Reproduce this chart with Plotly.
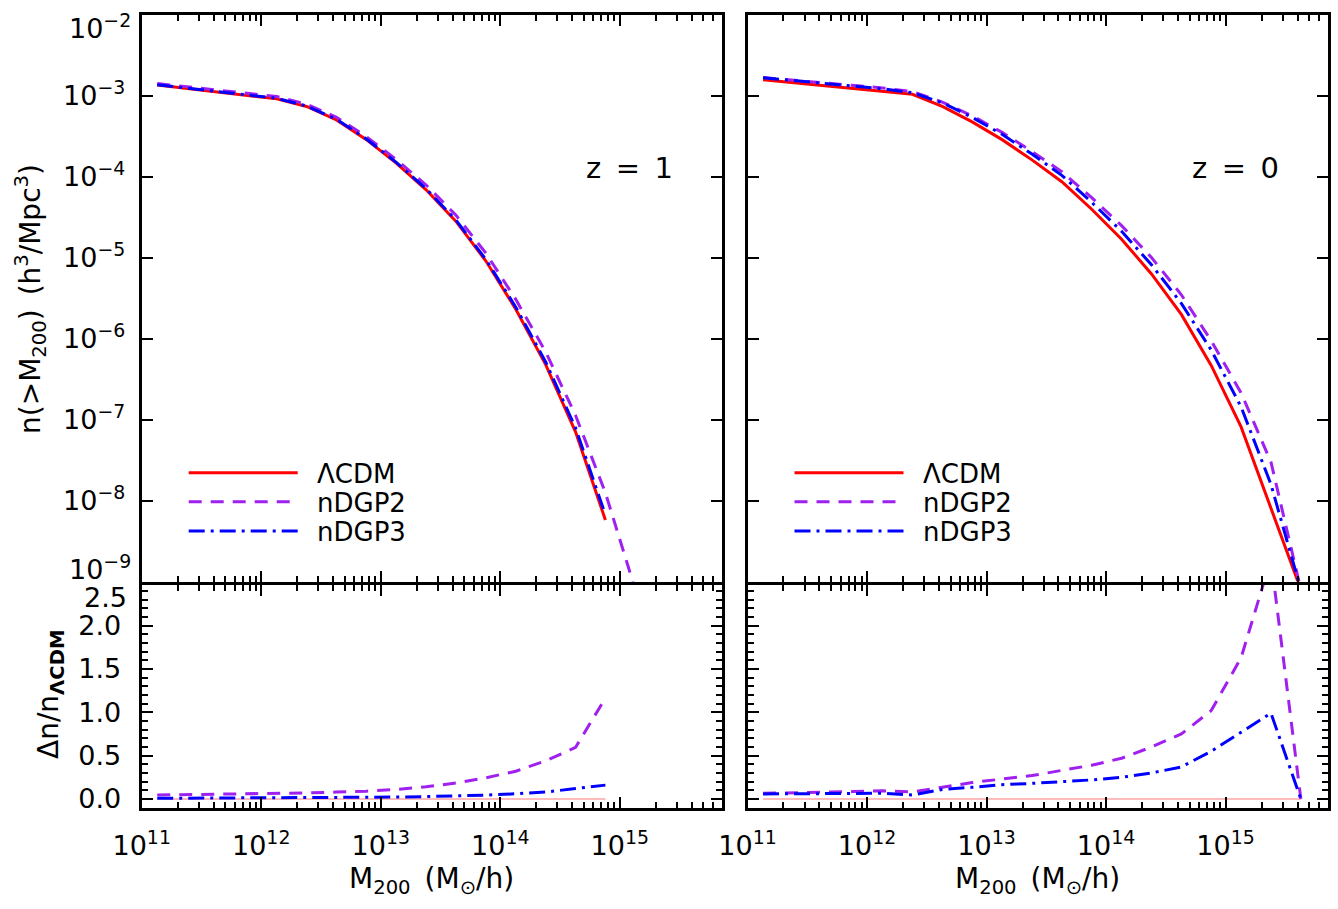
import plotly.graph_objects as go

W, H = 1338, 909
FONT = "DejaVu Sans"

# ---------------- data ----------------
# log10 of M200 [Msun/h] bin centres
logM_z1 = [11.13, 11.38, 11.63, 11.88, 12.13, 12.38, 12.63, 12.88, 13.13, 13.38,
           13.63, 13.88, 14.13, 14.38, 14.63, 14.88]
logM_z1_ndgp2 = [11.13, 11.38, 11.63, 11.88, 12.13, 12.38, 12.63, 12.88, 13.13, 13.38,
                 13.63, 13.88, 14.13, 14.38, 14.63, 14.88, 15.13]
logM_z0 = [11.13, 11.38, 11.63, 11.88, 12.13, 12.38, 12.63, 12.88, 13.13, 13.38,
           13.63, 13.88, 14.13, 14.38, 14.63, 14.88, 15.13, 15.38, 15.63]

# log10 n(>M200) [h^3/Mpc^3], z = 1
log_n_lcdm_z1 = [-2.865, -2.906, -2.947, -2.988, -3.035, -3.130, -3.296, -3.540, -3.830, -4.160,
                 -4.550, -5.040, -5.635, -6.320, -7.150, -8.240]
log_n_ndgp2_z1 = [-2.846, -2.885, -2.925, -2.964, -3.008, -3.101, -3.263, -3.503, -3.785, -4.101,
                  -4.475, -4.943, -5.514, -6.162, -6.946, -7.904, -9.100]
log_n_ndgp3_z1 = [-2.862, -2.902, -2.943, -2.983, -3.030, -3.124, -3.289, -3.532, -3.821, -4.148,
                  -4.535, -5.021, -5.610, -6.287, -7.101, -8.176]

# log10 n(>M200), z = 0
log_n_lcdm_z0 = [-2.800, -2.835, -2.870, -2.905, -2.940, -2.980, -3.130, -3.320, -3.540, -3.790,
                 -4.060, -4.400, -4.770, -5.200, -5.700, -6.330, -7.090, -8.100, -9.100]
log_n_ndgp2_z0 = [-2.773, -2.806, -2.839, -2.870, -2.901, -2.946, -3.075, -3.245, -3.450, -3.686,
                  -3.936, -4.257, -4.603, -4.996, -5.457, -6.025, -6.670, -7.524, -9.100]
log_n_ndgp3_z0 = [-2.775, -2.810, -2.843, -2.878, -2.912, -2.960, -3.085, -3.265, -3.474, -3.718,
                  -3.981, -4.314, -4.673, -5.086, -5.563, -6.140, -6.842, -7.801, -9.100]

# relative difference  Delta n / n_LCDM
ratio_lcdm_z1 = [0.0, 0.0, 0.0, 0.0, 0.0, 0.0, 0.0, 0.0, 0.0, 0.0, 0.0, 0.0, 0.0, 0.0, 0.0, 0.0]
ratio_ndgp2_z1 = [0.046, 0.050, 0.053, 0.057, 0.063, 0.070, 0.080, 0.090, 0.110, 0.140,
                  0.185, 0.245, 0.320, 0.440, 0.595, 1.165]
ratio_ndgp3_z1 = [0.008, 0.009, 0.010, 0.011, 0.012, 0.014, 0.016, 0.019, 0.022, 0.028,
                  0.035, 0.045, 0.060, 0.080, 0.120, 0.160]

ratio_lcdm_z0 = [0.0, 0.0, 0.0, 0.0, 0.0, 0.0, 0.0, 0.0, 0.0, 0.0, 0.0, 0.0, 0.0, 0.0, 0.0,
                 0.0, 0.0, 0.0, 0.0]
ratio_ndgp2_z0 = [0.065, 0.070, 0.075, 0.085, 0.095, 0.082, 0.135, 0.190, 0.230, 0.270,
                  0.330, 0.390, 0.470, 0.600, 0.750, 1.020, 1.630, 2.770, 0.000]
ratio_ndgp3_z0 = [0.058, 0.060, 0.063, 0.065, 0.066, 0.046, 0.110, 0.135, 0.165, 0.180,
                  0.200, 0.220, 0.250, 0.300, 0.370, 0.550, 0.770, 0.990, 0.000]

series_names = ["ΛCDM", "nDGP2", "nDGP3"]
x_tick_exp = [11, 12, 13, 14, 15]
y_tick_exp = [-9, -8, -7, -6, -5, -4, -3, -2]
ratio_ticks = [0.0, 0.5, 1.0, 1.5, 2.0]
ratio_ticklabels = ["0.0", "0.5", "1.0", "1.5", "2.0"]

# ---------------- styles ----------------
RED, PURPLE, BLUE = "#ff0000", "#a020f0", "#0000ff"
ZERO_RED = "#ff7a7a"
DASH = "13px,9px"
DASHDOT = "16px,6px,3px,6px"
LW = 3


def tomass(v):
    return [10 ** a for a in v]


def toden(v):
    return [10 ** a for a in v]


def px_x(p):
    return p / W


def px_y(p):
    return 1 - p / H


fig = go.Figure()

# upper-left (z=1)
fig.add_trace(go.Scatter(x=tomass(logM_z1), y=toden(log_n_lcdm_z1), mode="lines",
                         line=dict(color=RED, width=LW), xaxis="x", yaxis="y", showlegend=False))
fig.add_trace(go.Scatter(x=tomass(logM_z1_ndgp2), y=toden(log_n_ndgp2_z1), mode="lines",
                         line=dict(color=PURPLE, width=LW, dash=DASH), xaxis="x", yaxis="y", showlegend=False))
fig.add_trace(go.Scatter(x=tomass(logM_z1), y=toden(log_n_ndgp3_z1), mode="lines",
                         line=dict(color=BLUE, width=LW, dash=DASHDOT), xaxis="x", yaxis="y", showlegend=False))
# upper-right (z=0)
fig.add_trace(go.Scatter(x=tomass(logM_z0), y=toden(log_n_lcdm_z0), mode="lines",
                         line=dict(color=RED, width=LW), xaxis="x2", yaxis="y2", showlegend=False))
fig.add_trace(go.Scatter(x=tomass(logM_z0), y=toden(log_n_ndgp2_z0), mode="lines",
                         line=dict(color=PURPLE, width=LW, dash=DASH), xaxis="x2", yaxis="y2", showlegend=False))
fig.add_trace(go.Scatter(x=tomass(logM_z0), y=toden(log_n_ndgp3_z0), mode="lines",
                         line=dict(color=BLUE, width=LW, dash=DASHDOT), xaxis="x2", yaxis="y2", showlegend=False))
# lower-left
fig.add_trace(go.Scatter(x=tomass(logM_z1), y=ratio_lcdm_z1, mode="lines",
                         line=dict(color=ZERO_RED, width=1.2), xaxis="x3", yaxis="y3", showlegend=False))
fig.add_trace(go.Scatter(x=tomass(logM_z1), y=ratio_ndgp2_z1, mode="lines",
                         line=dict(color=PURPLE, width=LW, dash=DASH), xaxis="x3", yaxis="y3", showlegend=False))
fig.add_trace(go.Scatter(x=tomass(logM_z1), y=ratio_ndgp3_z1, mode="lines",
                         line=dict(color=BLUE, width=LW, dash=DASHDOT), xaxis="x3", yaxis="y3", showlegend=False))
# lower-right
fig.add_trace(go.Scatter(x=tomass(logM_z0), y=ratio_lcdm_z0, mode="lines",
                         line=dict(color=ZERO_RED, width=1.2), xaxis="x4", yaxis="y4", showlegend=False))
fig.add_trace(go.Scatter(x=tomass(logM_z0), y=ratio_ndgp2_z0, mode="lines",
                         line=dict(color=PURPLE, width=LW, dash=DASH), xaxis="x4", yaxis="y4", showlegend=False))
fig.add_trace(go.Scatter(x=tomass(logM_z0), y=ratio_ndgp3_z0, mode="lines",
                         line=dict(color=BLUE, width=LW, dash=DASHDOT), xaxis="x4", yaxis="y4", showlegend=False))

# ---------------- axes ----------------
XL = (141.7, 721.7)
XR = (747.5, 1327.5)
Y_UP = (15.0, 581.5)
Y_LO = (584.5, 808.0)

x_major = [10 ** e for e in x_tick_exp]
x_major_text = ["10<sup>%d</sup>" % e for e in x_tick_exp]
x_minor = [k * 10 ** e for e in range(11, 16) for k in range(2, 10)]
y_major = [10 ** e for e in y_tick_exp]
y_label = ["10<sup>\u2212%d</sup>" % (-e) for e in y_tick_exp]
# the two end labels are placed just inside the panel (as in the original)
y_major_text = [""] + y_label[1:-1] + [""]
r_minor = [round(0.1 * i, 1) for i in range(-1, 25) if i % 5 != 0]

tickfont = dict(family=FONT, size=27, color="black")


def base_axis(**kw):
    d = dict(showline=True, linecolor="black", linewidth=3, mirror="allticks",
             ticks="inside", ticklen=11, tickwidth=2, tickcolor="black",
             showgrid=False, zeroline=False, tickfont=tickfont, fixedrange=True,
             automargin=False, ticklabeloverflow="allow")
    d.update(kw)
    return d


def xaxis(dom, anchor, labels):
    return base_axis(type="log", range=[11, 15.853], domain=[px_x(dom[0]), px_x(dom[1])],
                     anchor=anchor, tickmode="array", tickvals=x_major, ticktext=x_major_text,
                     showticklabels=labels, ticklabelstandoff=12,
                     minor=dict(tickmode="array", tickvals=x_minor, ticks="inside", ticklen=6,
                                tickwidth=2, tickcolor="black", showgrid=False))


def yaxis_up(anchor, labels):
    return base_axis(type="log", range=[-9.0003, -1.9997], domain=[px_y(Y_UP[1]), px_y(Y_UP[0])],
                     anchor=anchor, tickmode="array", tickvals=y_major, ticktext=y_major_text,
                     showticklabels=labels, ticklabelstandoff=8)


def yaxis_lo(anchor, labels):
    return base_axis(range=[-0.104, 2.475], domain=[px_y(Y_LO[1]), px_y(Y_LO[0])],
                     anchor=anchor, tickmode="array", tickvals=ratio_ticks, ticktext=ratio_ticklabels,
                     showticklabels=labels, ticklabelstandoff=12,
                     minor=dict(tickmode="array", tickvals=r_minor, ticks="inside", ticklen=6,
                                tickwidth=2, tickcolor="black", showgrid=False))


fig.update_layout(
    width=W, height=H, autosize=False,
    margin=dict(l=0, r=0, t=0, b=0, pad=0),
    paper_bgcolor="white", plot_bgcolor="white",
    font=dict(family=FONT, size=27, color="black"),
    showlegend=False,
    xaxis=xaxis(XL, "y", False),
    yaxis=yaxis_up("x", True),
    xaxis2=xaxis(XR, "y2", False),
    yaxis2=yaxis_up("x2", False),
    xaxis3=xaxis(XL, "y3", True),
    yaxis3=yaxis_lo("x3", True),
    xaxis4=xaxis(XR, "y4", True),
    yaxis4=yaxis_lo("x4", False),
)

# ---------------- decorations ----------------
shapes = []
annotations = []

# end labels of the left axes, nudged inside like the original
edge_font = dict(family=FONT, size=27, color="black")
annotations.append(dict(text=y_label[-1], xref="paper", yref="paper", x=px_x(133), y=px_y(26),
                        xanchor="right", yanchor="middle", showarrow=False, font=edge_font))
annotations.append(dict(text=y_label[0], xref="paper", yref="paper", x=px_x(133), y=px_y(567),
                        xanchor="right", yanchor="middle", showarrow=False, font=edge_font))
annotations.append(dict(text="2.5", xref="paper", yref="paper", x=px_x(129), y=px_y(597),
                        xanchor="right", yanchor="middle", showarrow=False, font=edge_font))

# legends
leg_styles = [dict(color=RED, width=LW), dict(color=PURPLE, width=LW, dash=DASH),
              dict(color=BLUE, width=LW, dash=DASHDOT)]
leg_y = [472.7, 501.7, 531.0]
for left in (XL[0], XR[0]):
    for name, st, yy in zip(series_names, leg_styles, leg_y):
        shapes.append(dict(type="line", xref="paper", yref="paper",
                           x0=px_x(left + 47), x1=px_x(left + 156), y0=px_y(yy), y1=px_y(yy),
                           line=st))
        annotations.append(dict(text=name, xref="paper", yref="paper",
                                x=px_x(left + 173), y=px_y(yy + 1), xanchor="left", yanchor="middle",
                                showarrow=False, font=dict(family=FONT, size=26, color="black")))

# redshift labels
for right, lab in ((XL[1], "z\u2002=\u20021"), (XR[1], "z\u2002=\u20020")):
    annotations.append(dict(text=lab, xref="paper", yref="paper", x=px_x(right - 47), y=px_y(168),
                            xanchor="right", yanchor="middle", showarrow=False,
                            font=dict(family=FONT, size=29, color="black")))

# axis titles
annotations.append(dict(text="n(>M<sub>200</sub>)\u2002(h<sup>3</sup>/Mpc<sup>3</sup>)",
                        xref="paper", yref="paper", x=px_x(30), y=px_y(299), textangle=-90,
                        xanchor="center", yanchor="middle", showarrow=False,
                        font=dict(family=FONT, size=28, color="black")))
annotations.append(dict(text="\u0394n/n<sub><b>\u039bCDM</b></sub>",
                        xref="paper", yref="paper", x=px_x(50), y=px_y(695), textangle=-90,
                        xanchor="center", yanchor="middle", showarrow=False,
                        font=dict(family=FONT, size=28, color="black")))
for lo, hi in (XL, XR):
    annotations.append(dict(text="M<sub>200</sub>\u2002(M<sub>\u2299</sub>/h)",
                            xref="paper", yref="paper", x=px_x((lo + hi) / 2), y=px_y(880),
                            xanchor="center", yanchor="middle", showarrow=False,
                            font=dict(family=FONT, size=28, color="black")))

fig.update_layout(shapes=shapes, annotations=annotations)

fig.write_html("out.html")
